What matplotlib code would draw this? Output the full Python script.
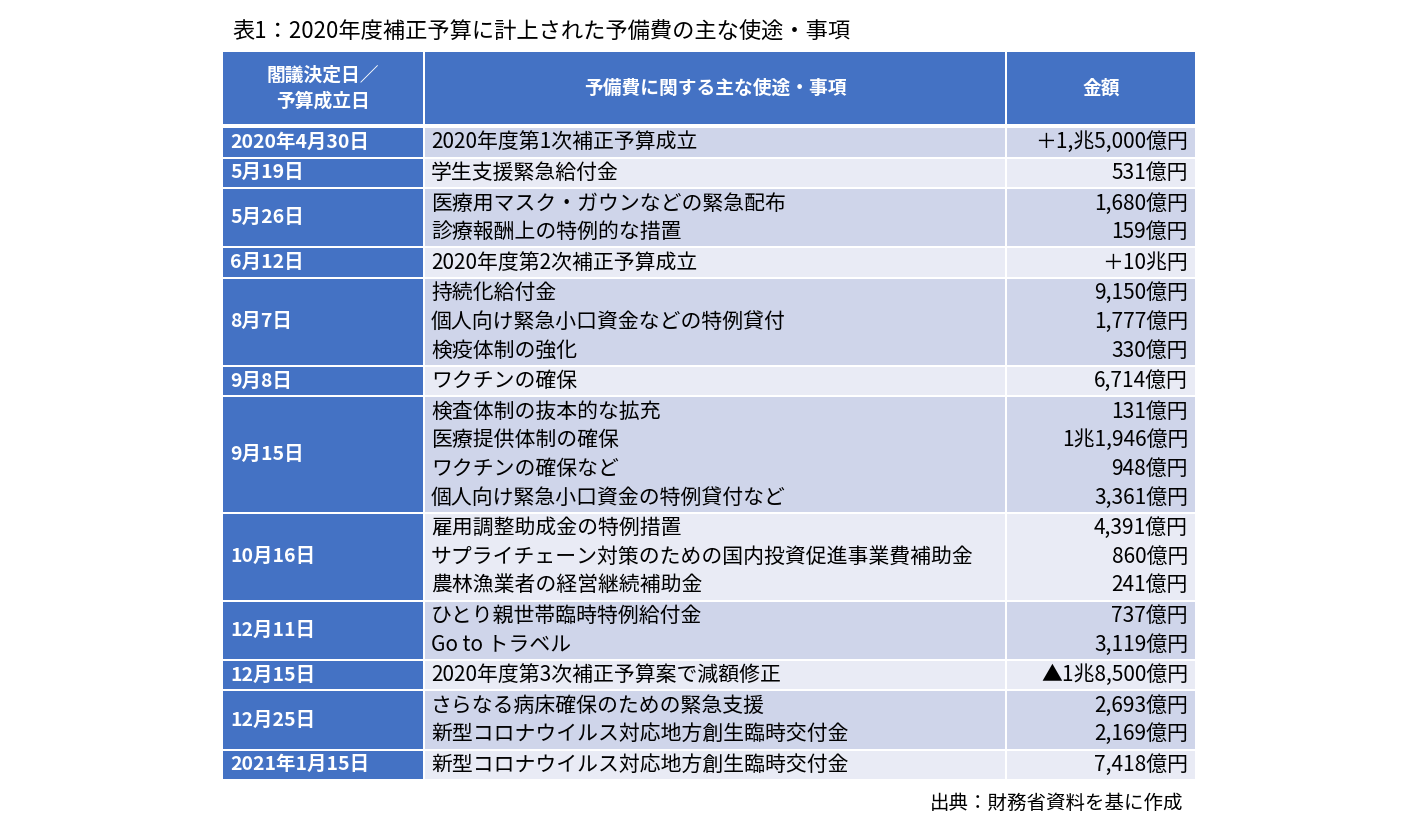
import matplotlib
matplotlib.use("Agg")
import matplotlib.pyplot as plt
from matplotlib.patches import Rectangle

plt.rcParams["font.family"] = "Noto Sans CJK JP"

title = "表1：2020年度補正予算に計上された予備費の主な使途・事項"
headers = ["閣議決定日／\n予算成立日", "予備費に関する主な使途・事項", "金額"]
dates = ["2020年4月30日", "5月19日", "5月26日", "6月12日", "8月7日", "9月8日",
         "9月15日", "10月16日", "12月11日", "12月15日", "12月25日", "2021年1月15日"]
items = [
    ["2020年度第1次補正予算成立"],
    ["学生支援緊急給付金"],
    ["医療用マスク・ガウンなどの緊急配布", "診療報酬上の特例的な措置"],
    ["2020年度第2次補正予算成立"],
    ["持続化給付金", "個人向け緊急小口資金などの特例貸付", "検疫体制の強化"],
    ["ワクチンの確保"],
    ["検査体制の抜本的な拡充", "医療提供体制の確保", "ワクチンの確保など", "個人向け緊急小口資金の特例貸付など"],
    ["雇用調整助成金の特例措置", "サプライチェーン対策のための国内投資促進事業費補助金", "農林漁業者の経営継続補助金"],
    ["ひとり親世帯臨時特例給付金", "Go to トラベル"],
    ["2020年度第3次補正予算案で減額修正"],
    ["さらなる病床確保のための緊急支援", "新型コロナウイルス対応地方創生臨時交付金"],
    ["新型コロナウイルス対応地方創生臨時交付金"],
]
amounts = [
    ["＋1,兆5,000億円"],
    ["531億円"],
    ["1,680億円", "159億円"],
    ["＋10兆円"],
    ["9,150億円", "1,777億円", "330億円"],
    ["6,714億円"],
    ["131億円", "1兆1,946億円", "948億円", "3,361億円"],
    ["4,391億円", "860億円", "241億円"],
    ["737億円", "3,119億円"],
    ["▲1兆8,500億円"],
    ["2,693億円", "2,169億円"],
    ["7,418億円"],
]
source = "出典：財務省資料を基に作成"

W, H = 1420, 836
fig = plt.figure(figsize=(W / 100, H / 100), dpi=100)
ax = fig.add_axes([0, 0, 1, 1])
ax.set_xlim(0, W)
ax.set_ylim(H, 0)
ax.axis("off")

blue = "#4472C4"
dark = "#CFD5EA"
light = "#E9EBF5"
cols = [(223, 423), (425, 1005), (1007, 1195)]
fs = 15

ax.text(232, 32, title, fontsize=16, va="center", ha="left", color="black")

# header
for (x0, x1), h in zip(cols, headers):
    ax.add_patch(Rectangle((x0, 52), x1 - x0, 72, color=blue, lw=0))
    ax.text((x0 + x1) / 2, 88, h, fontsize=13.5, color="white", weight="bold",
            ha="center", va="center", linespacing=1.5)

lh = 28.6
gap = 2
y = 128
for i, (d, it, am) in enumerate(zip(dates, items, amounts)):
    n = len(it)
    h = n * lh
    fill = dark if i % 2 == 0 else light
    ax.add_patch(Rectangle((cols[0][0], y), cols[0][1] - cols[0][0], h, color=blue, lw=0))
    ax.add_patch(Rectangle((cols[1][0], y), cols[1][1] - cols[1][0], h, color=fill, lw=0))
    ax.add_patch(Rectangle((cols[2][0], y), cols[2][1] - cols[2][0], h, color=fill, lw=0))
    ax.text(230, y + h / 2, d, fontsize=14, color="white", weight="bold", ha="left", va="center")
    for k in range(n):
        yc = y + (k + 0.5) * lh
        ax.text(431, yc, it[k], fontsize=fs, color="black", ha="left", va="center")
        ax.text(1188, yc, am[k], fontsize=fs, color="black", ha="right", va="center")
    y += h + gap

ax.text(1183, 803, source, fontsize=14, ha="right", va="center", color="black")

fig.savefig("out.png", dpi=100, facecolor="white")
